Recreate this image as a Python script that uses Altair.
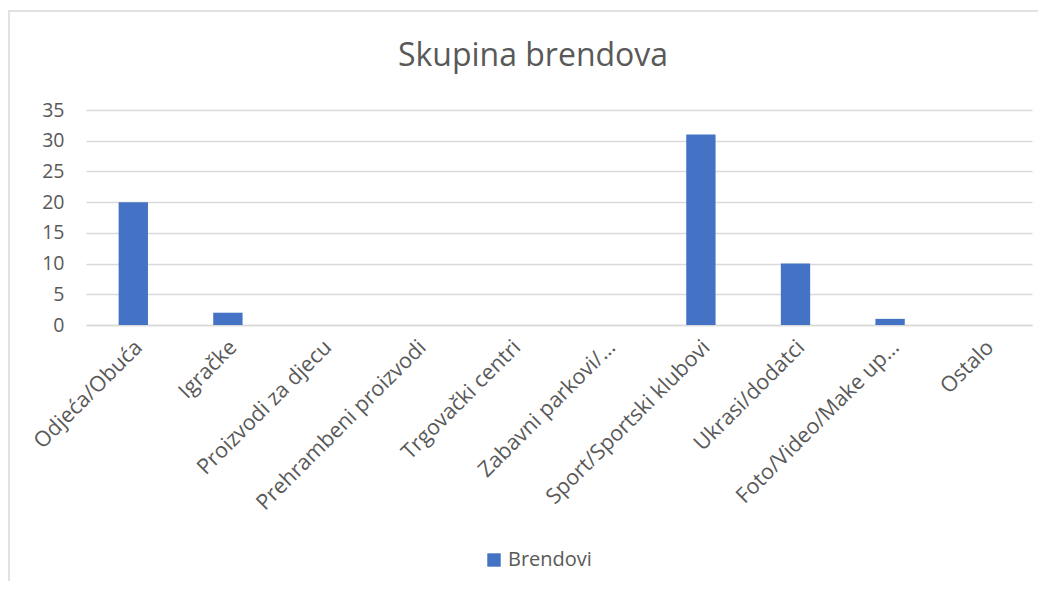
import altair as alt
import pandas as pd

title_text = "Skupina brendova"
categories = ["Odjeća/Obuća", "Igračke", "Proizvodi za djecu", "Prehrambeni proizvodi",
              "Trgovački centri", "Zabavni parkovi/…", "Sport/Sportski klubovi",
              "Ukrasi/dodatci", "Foto/Video/Make up…", "Ostalo"]
values = [20, 2, 0, 0, 0, 0, 31, 10, 1, 0]
series = ["Brendovi"] * len(categories)

df = pd.DataFrame({"kategorija": categories, "vrijednost": values, "serija": series})

FONT = "Open Sans"
GRAY = "#595959"

bars = alt.Chart(df).mark_bar(color="#4472C4").encode(
    x=alt.X("kategorija:N", sort=categories, title=None,
            scale=alt.Scale(paddingInner=0.69, paddingOuter=0.345),
            axis=alt.Axis(labelAngle=-45, labelAlign="right", labelBaseline="middle",
                          labelFontSize=21.5, labelColor=GRAY, labelFont=FONT,
                          ticks=False, domain=True, domainColor="#d9d9d9", domainWidth=1.5,
                          labelPadding=19, labelOffset=6, labelLimit=400)),
    y=alt.Y("vrijednost:Q", title=None,
            scale=alt.Scale(domain=[0, 35]),
            axis=alt.Axis(values=[0, 5, 10, 15, 20, 25, 30, 35], ticks=False, domain=False,
                          labelFontSize=19.5, labelColor=GRAY, labelFont=FONT,
                          gridColor="#d9d9d9", gridWidth=1.5, labelPadding=22)),
    color=alt.Color("serija:N", scale=alt.Scale(range=["#4472C4"]),
                    legend=alt.Legend(title=None, orient="none", legendX=398, legendY=440,
                                      symbolType="square", symbolSize=180,
                                      symbolStrokeWidth=0,
                                      labelFontSize=20, labelColor=GRAY, labelFont=FONT)),
)

frame = alt.Chart(pd.DataFrame({"f": [0]})).mark_rect(
    fill=None, stroke="#d9d9d9", strokeWidth=1.5
).encode(
    x=alt.value(-77), x2=alt.value(1100),
    y=alt.value(-99), y2=alt.value(600),
)

title = alt.Chart(pd.DataFrame({"t": [title_text]})).mark_text(
    font=FONT, fontSize=32, color=GRAY, align="center", baseline="alphabetic"
).encode(
    text="t:N", x=alt.value(447), y=alt.value(-44),
)

chart = alt.layer(frame, bars, title).properties(
    width=946, height=215,
    autosize=alt.AutoSizeParams(type="none"),
    padding={"left": 78, "top": 102, "right": 6, "bottom": 256},
).configure_view(stroke=None)

chart.save("out.html", embed_options={"renderer": "svg", "actions": False})
